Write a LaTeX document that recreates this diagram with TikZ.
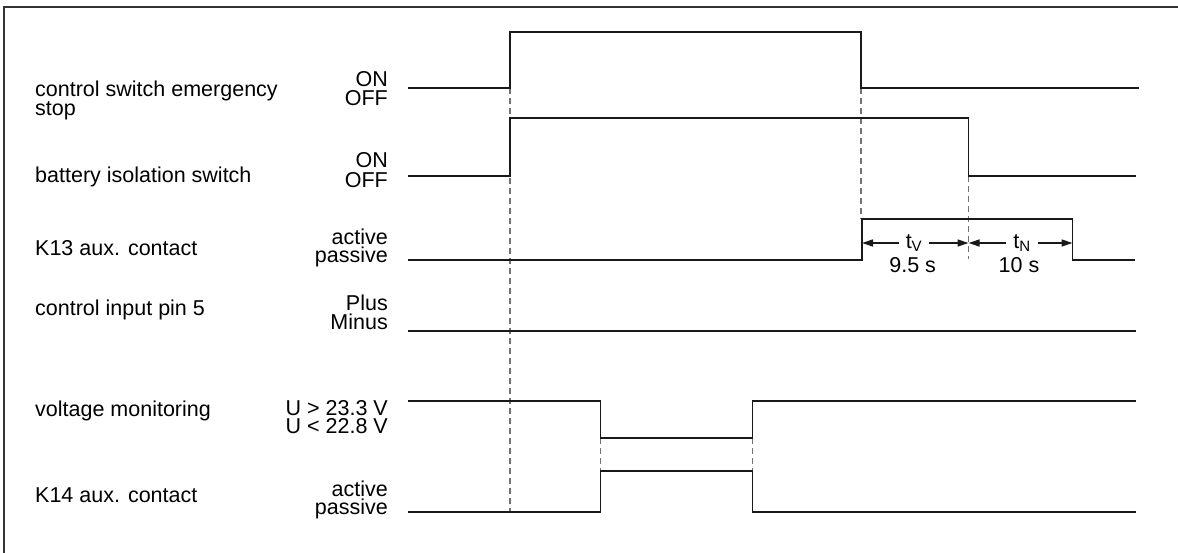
\documentclass[tikz,border=0pt]{standalone}
\usepackage{fontspec}
\setmainfont{Liberation Sans}
\usetikzlibrary{arrows.meta}

\tikzset{
  signal/.style={line width=1.3pt, black!90},
  guide/.style={line width=1.3pt, black!55, dash pattern=on 6pt off 4pt},
  dim/.style={line width=1.3pt, black!90, -{Triangle[length=11pt,width=7pt]}},
  lbl/.style={anchor=base west, inner sep=0pt},
  state/.style={anchor=base east, inner sep=0pt},
}

\begin{document}
\begin{tikzpicture}[x=1pt, y=-1pt, font=\fontsize{21.5}{19}\selectfont]
\useasboundingbox (0,0) rectangle (1178,553);
% frame
\draw[line width=1.6pt, black!80] (1178,7) -- (4,7) -- (4,553);

% signal names
\node[lbl] (estop) at (35,97) {control switch emergency};
\node[lbl] (estopb) at (35,116) {stop};
\node[lbl] (batt) at (35,183) {battery isolation switch};
\node[lbl] (kxiii) at (35,256) {K13 aux. contact};
\node[lbl] (pin) at (35,316) {control input pin 5};
\node[lbl] (volt) at (35,416) {voltage monitoring};
\node[lbl] (kxiv) at (35,502) {K14 aux. contact};

% states
\node[state] (on1) at (388,87) {ON};
\node[state] (off1) at (388,106) {OFF};
\node[state] (on2) at (388,168) {ON};
\node[state] (off2) at (388,188) {OFF};
\node[state] (act3) at (388,245) {active};
\node[state] (pas3) at (388,263) {passive};
\node[state] (plus) at (388,311) {Plus};
\node[state] (minus) at (388,330) {Minus};
\node[state] (uhi) at (388,415) {U > 23.3 V};
\node[state] (ulo) at (388,433) {U < 22.8 V};
\node[state] (act6) at (388,496) {active};
\node[state] (pas6) at (388,514) {passive};

% dashed guides
\draw[guide] (510,88) -- (510,512);
\draw[guide] (861,88) -- (861,219);
\draw[guide] (968.5,176) -- (968.5,259);
\draw[guide] (600.5,438) -- (600.5,471);
\draw[guide] (752.5,438) -- (752.5,471);

% waveforms
\draw[signal] (408,88) -- (510,88) -- (510,32) -- (861,32) -- (861,88) -- (1139,88);
\draw[signal] (408,176) -- (510,176) -- (510,118) -- (968.5,118) -- (968.5,176) -- (1136,176);
\draw[signal] (408,260) -- (862,260) -- (862,219) -- (1072.5,219) -- (1072.5,260) -- (1135,260);
\draw[signal] (408,331) -- (1136,331);
\draw[signal] (408,401) -- (600.5,401) -- (600.5,438) -- (752.5,438) -- (752.5,401) -- (1136,401);
\draw[signal] (408,512) -- (600.5,512) -- (600.5,471) -- (752.5,471) -- (752.5,512) -- (1136,512);

% delay times
\coordinate (kon) at (862,243);
\coordinate (koff) at (968.5,243);
\coordinate (kend) at (1072.5,243);
\node[inner xsep=7pt, inner ysep=0pt] (tv) at (914,243) {t\textsubscript{V}};
\node[inner xsep=7pt, inner ysep=0pt] (tn) at (1022,243) {t\textsubscript{N}};
\draw[dim] (tv) -- (kon);
\draw[dim] (tv) -- (koff);
\draw[dim] (tn) -- (koff);
\draw[dim] (tn) -- (kend);
\node[anchor=base, inner sep=0pt] (tvval) at (912.7,273) {9.5 s};
\node[anchor=base, inner sep=0pt] (tnval) at (1019,273) {10 s};
\end{tikzpicture}
\end{document}
